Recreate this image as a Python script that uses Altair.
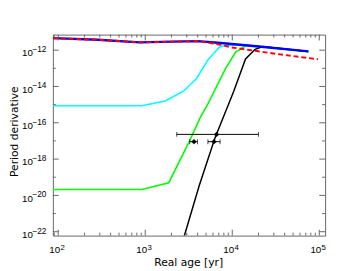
import altair as alt
import pandas as pd

# ---- data ----
blue_age = [86.9, 284, 863, 2040, 4010, 7380, 18800, 74800]
blue_pdot = [4.58e-12, 3.76e-12, 2.69e-12, 2.94e-12, 3.16e-12, 2.47e-12, 1.64e-12, 8.5e-13]

red_age = [86.9, 284, 863, 2040, 4010, 7380, 9550, 31600, 96600]
red_pdot = [4.58e-12, 3.76e-12, 2.69e-12, 2.94e-12, 3.16e-12, 2.0e-12, 1.45e-12, 6.3e-13, 3.16e-13]

cyan_age = [86.9, 912, 1700, 2750, 3890, 5250, 7080, 8710, 12600, 18800, 74800]
cyan_pdot = [8.7e-16, 8.7e-16, 1.58e-15, 5.5e-15, 2.75e-14, 2.9e-13, 1.45e-12, 1.9e-12, 1.95e-12, 1.64e-12, 8.5e-13]

green_age = [86.9, 912, 1862, 3236, 4295, 5248, 8395, 10940, 14520, 18800, 74800]
green_pdot = [2.14e-20, 2.14e-20, 5.0e-20, 1.0e-17, 2.0e-16, 1.1e-15, 1.0e-13, 7.8e-13, 1.86e-12, 1.64e-12, 8.5e-13]

black_age = [2670, 2820, 4150, 6310, 10400, 14200, 18300, 22400, 74800]
black_pdot = [2.5e-23, 6.2e-23, 3.2e-20, 1.4e-17, 5.5e-15, 3.3e-13, 1.12e-12, 1.58e-12, 8.5e-13]

obs_age = [6600, 3630, 6170]
obs_lo = [2300, 3240, 5250]
obs_hi = [20000, 3980, 7240]
obs_pdot = [2.3e-17, 9.1e-18, 9.1e-18]

x_major = [100, 1000, 10000, 100000]
x_exp = ["2", "3", "4", "5"]
x_minor = [90] + [m * 10 ** k for k in (2, 3, 4) for m in range(2, 10)]
y_major = [1e-22, 1e-20, 1e-18, 1e-16, 1e-14, 1e-12]
y_exp = ["−22", "−20", "−18", "−16", "−14", "−12"]
y_minor = [1e-21, 1e-19, 1e-17, 1e-15, 1e-13]

W, H = 279, 206
TICKC = "#666666"
LFONT = "Liberation Sans"

xs = alt.Scale(type="log", domain=[86.8, 116700], nice=False)
ys = alt.Scale(type="log", domain=[6.1e-23, 7.2e-12], nice=False)

x_axis = alt.Axis(
    values=x_major, labelExpr="'10'", title="Real age [yr]",
    ticks=False, tickSize=0, domain=False, grid=False,
    labelAlign="right", labelOffset=1.5, labelBaseline="alphabetic", labelPadding=17,
    labelFont=LFONT, labelFontSize=10, labelColor="black",
    titleFont="DejaVu Sans", titleFontSize=11, titleFontWeight="normal", titleColor="black",
    titleX=138.7, titleY=30.5, titleBaseline="alphabetic", titleAlign="center",
)
y_axis = alt.Axis(
    values=y_major, labelExpr="'10'", title="Period derivative",
    ticks=False, tickSize=0, domain=False, grid=False,
    labelAlign="right", labelBaseline="alphabetic", labelOffset=5.8, labelPadding=21,
    labelFont=LFONT, labelFontSize=10, labelColor="black",
    titleFont="DejaVu Sans", titleFontSize=11, titleFontWeight="normal", titleColor="black",
    titleX=-36.5, titleY=99, titleBaseline="alphabetic", titleAlign="center", titleAngle=-90,
)


def X(field="age"):
    return alt.X(f"{field}:Q", scale=xs, axis=x_axis)


def Y(field="pdot"):
    return alt.Y(f"{field}:Q", scale=ys, axis=y_axis)


def line(ages, pdots, color, width, dash=None):
    df = pd.DataFrame({"age": ages, "pdot": pdots, "i": range(len(ages))})
    kw = dict(color=color, strokeWidth=width, clip=True)
    if dash:
        kw["strokeDash"] = dash
    return alt.Chart(df).mark_line(**kw).encode(x=X(), y=Y(), order="i:Q")


layers = [
    line(cyan_age, cyan_pdot, "#00ffff", 1.6),
    line(green_age, green_pdot, "#00ff00", 1.6),
    line(black_age, black_pdot, "black", 1.5),
    line(blue_age, blue_pdot, "#0000ff", 2.4),
    line(red_age, red_pdot, "#ff0000", 2.0, dash=[5, 3]),
]

obs = pd.DataFrame({"age": obs_age, "lo": obs_lo, "hi": obs_hi, "pdot": obs_pdot})
layers.append(alt.Chart(obs).mark_rule(color="black", strokeWidth=1).encode(
    x=X("lo"), x2="hi:Q", y=Y()))
layers.append(alt.Chart(obs).mark_tick(color="black", orient="vertical", size=5, thickness=1).encode(
    x=X("lo"), y=Y()))
layers.append(alt.Chart(obs).mark_tick(color="black", orient="vertical", size=5, thickness=1).encode(
    x=X("hi"), y=Y()))
layers.append(alt.Chart(obs).mark_point(shape="diamond", filled=True, size=30, color="black", opacity=1).encode(
    x=X(), y=Y()))

# exponents of the tick labels
xe = pd.DataFrame({"v": x_major, "e": x_exp})
ye = pd.DataFrame({"v": y_major, "e": y_exp})
layers.append(alt.Chart(xe).mark_text(font=LFONT, fontSize=8, align="left", baseline="alphabetic",
                                       dx=2.3, color="black").encode(
    x=X("v"), y=alt.value(H + 14.3), text="e:N"))
layers.append(alt.Chart(ye).mark_text(font=LFONT, fontSize=8.5, align="left", baseline="alphabetic",
                                       dy=2, color="black").encode(
    y=Y("v"), x=alt.value(-21), text="e:N"))

# inward ticks on all four sides
xt_major = pd.DataFrame({"v": x_major})
xt_minor = pd.DataFrame({"v": x_minor})
yt_major = pd.DataFrame({"v": y_major})
yt_minor = pd.DataFrame({"v": y_minor})

for df, ln in ((xt_major, 6), (xt_minor, 3)):
    layers.append(alt.Chart(df).mark_rule(color=TICKC, strokeWidth=1).encode(
        x=X("v"), y=alt.value(H), y2=alt.value(H - ln)))
    layers.append(alt.Chart(df).mark_rule(color=TICKC, strokeWidth=1).encode(
        x=X("v"), y=alt.value(0), y2=alt.value(ln)))
for df, ln in ((yt_major, 6), (yt_minor, 3)):
    layers.append(alt.Chart(df).mark_rule(color=TICKC, strokeWidth=1).encode(
        y=Y("v"), x=alt.value(0), x2=alt.value(ln)))
    layers.append(alt.Chart(df).mark_rule(color=TICKC, strokeWidth=1).encode(
        y=Y("v"), x=alt.value(W), x2=alt.value(W - ln)))

chart = alt.layer(*layers).properties(
    width=W, height=H,
    autosize=alt.AutoSizeParams(type="none"),
    padding={"left": 46, "top": 24, "right": 5, "bottom": 33},
    background="white",
).configure_view(stroke=TICKC, strokeWidth=1)

chart.save("out.html", embed_options={"renderer": "svg", "actions": False})
